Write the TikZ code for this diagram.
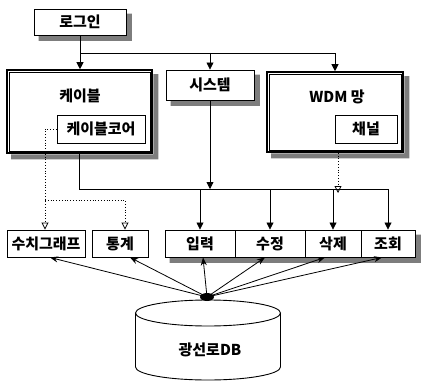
\documentclass[tikz,border=0pt]{standalone}
\usepackage{fontspec}
\setmainfont{Noto Sans CJK KR}
\usetikzlibrary{arrows.meta}
\definecolor{shadowgray}{RGB}{125,125,125}

\begin{document}
\begin{tikzpicture}[x=1pt, y=-1pt,
  box/.style = {draw, fill=white, line width=0.9pt, inner sep=0pt,
                font=\bfseries\fontsize{15}{15}\selectfont},
  title/.style = {font=\bfseries\fontsize{15}{15}\selectfont},
  solid arrow/.style = {-{Triangle[length=7pt, width=7pt]}, line width=0.8pt},
  open arrow/.style = {-{Triangle[open, length=7pt, width=7pt]}, dotted, line width=0.8pt},
  hub arrow/.style = {-{Stealth[length=8pt, width=6pt]}, line width=0.8pt}]
\useasboundingbox (0,0) rectangle (422,382);

\node[box, minimum width=92pt, minimum height=26pt] (login) at (80,22) {로그인};

\node[box, line width=1.6pt, minimum width=145pt, minimum height=83pt] (cable) at (79.5,111.5) {};
\draw[line width=0.6pt] ([shift={(3,3)}]cable.north west) rectangle ([shift={(-3,-3)}]cable.south east);
\node[title] (cabletitle) at (80,96) {케이블};
\node[box, minimum width=88pt, minimum height=28pt] (core) at (101,129) {케이블코어};

\node[box, minimum width=88pt, minimum height=30pt] (system) at (210,85) {시스템};

\node[box, line width=1.6pt, minimum width=136pt, minimum height=80pt] (wdm) at (335,112) {};
\draw[line width=0.6pt] ([shift={(3,3)}]wdm.north west) rectangle ([shift={(-3,-3)}]wdm.south east);
\node[title] (wdmtitle) at (337,97) {WDM 망};
\node[box, minimum width=62pt, minimum height=28pt] (channel) at (366,129) {채널};

% bottom row
\node[box, minimum width=78pt, minimum height=27pt] (graph) at (46,243.5) {수치그래프};
\node[box, minimum width=56pt, minimum height=27pt] (stat) at (120,243.5) {통계};
\node[box, minimum width=70pt, minimum height=27pt] (input) at (200,243.5) {입력};
\node[box, minimum width=70pt, minimum height=27pt] (modify) at (270,243.5) {수정};
\node[box, minimum width=56pt, minimum height=27pt] (delete) at (333,243.5) {삭제};
\node[box, minimum width=54pt, minimum height=27pt] (query) at (388,243.5) {조회};

% shadows, right and below
\foreach \a/\b in {login/login, cable/cable, system/system, wdm/wdm, input/query}
  \fill[shadowgray] ([shift={(0.6,5)}]\b.north east) -- ([shift={(5.5,5)}]\b.north east)
     -- ([shift={(5.5,5.5)}]\b.south east) -- ([shift={(5,5.5)}]\a.south west)
     -- ([shift={(5,0.6)}]\a.south west) -- ([shift={(0.6,0.6)}]\b.south east) -- cycle;

% login branches
\coordinate (split) at (80,53);
\draw[solid arrow] (login.south) -- (login.south |- cable.north);
\draw[solid arrow] (split) -| (wdm.north);
\draw[solid arrow] (split -| system.north) -- (system.north);

% bus
\coordinate (bus) at (79.5,189);
\draw[line width=0.8pt] (cable.south) -- (bus) -- (bus -| query.north);
\draw[solid arrow] (system.south) -- (system.south |- bus);
\draw[open arrow] ([xshift=3pt]wdm.south) -- ([xshift=3pt,yshift=-4pt]wdm.south |- bus);
\foreach \n in {input, modify, delete, query}
  \draw[solid arrow] (bus -| \n.north) -- (\n.north);

% cable core
\coordinate (dotbus) at (45,200);
\draw[open arrow] (core.west) -| ([xshift=-1pt]graph.north);
\draw[open arrow] (dotbus) -| ([xshift=5pt]stat.north);

% database
\draw[line width=0.9pt] (208,313) ellipse [x radius=72.5, y radius=13];
\draw[line width=0.9pt] (135.5,313) -- (135.5,367) arc[start angle=180, end angle=0, x radius=72.5, y radius=13] -- (280.5,313);
\node[title] (db) at (210,350) {광선로DB};

\coordinate (hub) at (207,297);
\foreach \n/\s in {graph/4, stat/10, input/3, modify/-5, delete/-8, query/-6}
  \draw[hub arrow] (hub) -- ([xshift=\s pt]\n.south);
\fill (hub) ellipse [x radius=7, y radius=4];
\end{tikzpicture}
\end{document}
